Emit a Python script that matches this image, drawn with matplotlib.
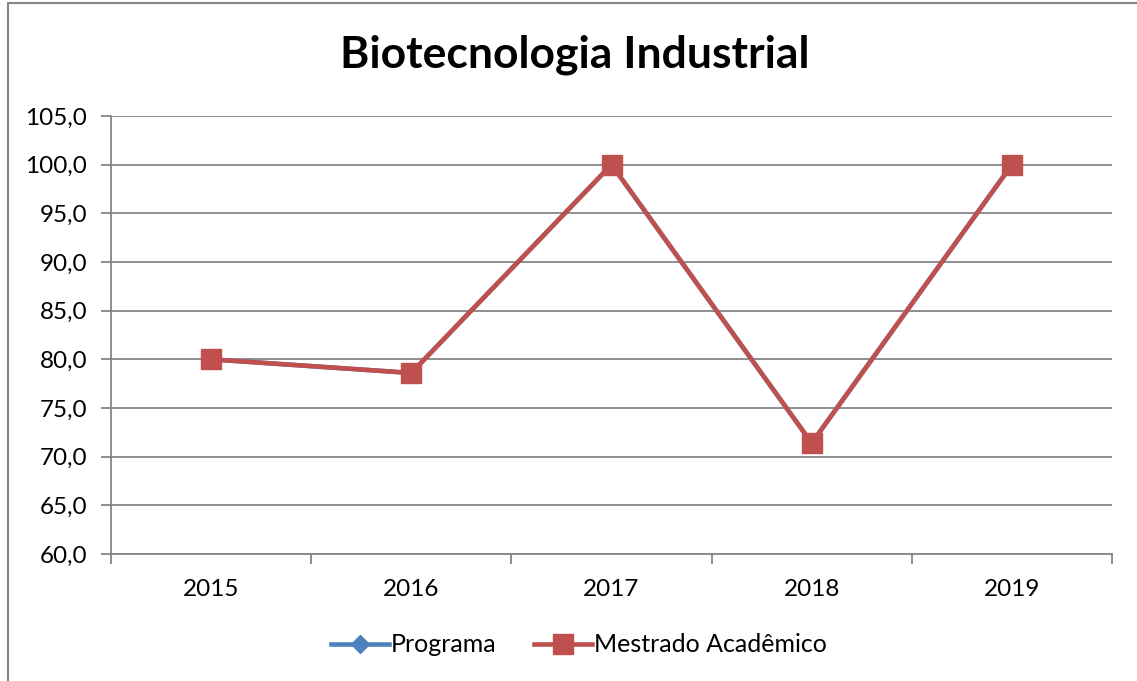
import matplotlib.pyplot as plt
import matplotlib.patches as mpatches
from matplotlib.ticker import FuncFormatter, MultipleLocator

plt.rcParams['font.family'] = ['Lato', 'DejaVu Sans']

anos = ['2015', '2016', '2017', '2018', '2019']
programa = [80.0, 78.6, 100.0, 71.4, 100.0]
mestrado = [80.0, 78.6, 100.0, 71.4, 100.0]

fig = plt.figure(figsize=(11.37, 6.81), dpi=100)
ax = fig.add_axes([111 / 1137, 127 / 681, 1001 / 1137, 438 / 681])

# chart border
fig.patches.append(mpatches.Rectangle((8 / 1137, -0.05), 1.2, 1 - 3 / 681 + 0.05,
                                      transform=fig.transFigure, fill=False,
                                      edgecolor='#868686', linewidth=1.5))

x = list(range(len(anos)))
ax.plot(x, programa, color='#4F81BD', lw=3.3, marker='D', ms=9,
        label='Programa', zorder=3)
ax.plot(x, mestrado, color='#C0504D', lw=3.3, marker='s', ms=14,
        label='Mestrado Acadêmico', zorder=4)

ax.set_xlim(-0.5, len(anos) - 0.5)
ax.set_ylim(60, 105)
ax.yaxis.set_major_locator(MultipleLocator(5))
ax.yaxis.set_major_formatter(FuncFormatter(lambda v, p: f'{v:.1f}'.replace('.', ',')))
ax.set_xticks(x)
ax.set_xticklabels(anos)
ax.set_xticks([i - 0.5 for i in range(len(anos) + 1)], minor=True)
ax.tick_params(axis='x', which='major', length=0, pad=18, labelsize=17.5)
ax.tick_params(axis='x', which='minor', length=7, width=1.3, color='#868686', direction='out')
ax.tick_params(axis='y', length=7, width=1.3, color='#868686', labelsize=17.5, pad=10)

ax.grid(axis='y', color='#868686', lw=1.3)
ax.set_axisbelow(True)
for s in ['top', 'right']:
    ax.spines[s].set_visible(False)
for s in ['left', 'bottom']:
    ax.spines[s].set_color('#868686')
    ax.spines[s].set_linewidth(1.3)

fig.text(575 / 1137, 1 - 55 / 681, 'Biotecnologia Industrial', ha='center', va='center',
         fontsize=32, fontweight='bold')

fig.legend(loc='center', bbox_to_anchor=(579 / 1137, 1 - 645 / 681), ncol=2, frameon=False,
           fontsize=18, handlelength=2.3, handletextpad=0.1, columnspacing=1.5)

fig.savefig('out.png', dpi=100)
